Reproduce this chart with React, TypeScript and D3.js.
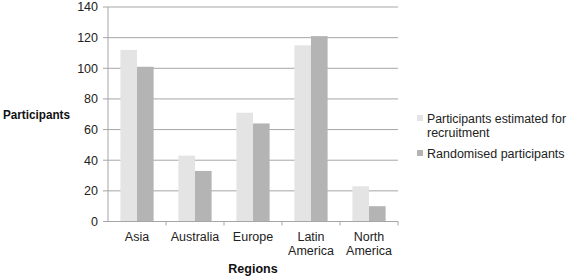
import React from "react";
import * as d3 from "d3";

const categories = ["Asia", "Australia", "Europe", "Latin America", "North America"];
const categoryLines = [["Asia"], ["Australia"], ["Europe"], ["Latin", "America"], ["North", "America"]];
const estimated = [112, 43, 71, 115, 23];
const randomised = [101, 33, 64, 121, 10];
const seriesNames = ["Participants estimated for recruitment", "Randomised participants"];
const yTicks = [0, 20, 40, 60, 80, 100, 120, 140];

const W = 567, H = 276;
const left = 108, right = 398, top = 7, bottom = 221.5;
const colors = ["#e4e4e4", "#b4b4b4"];
const font = "'Liberation Sans', Arial, sans-serif";

export default function App() {
  const x = d3.scaleBand<string>().domain(categories).range([left, right]).paddingInner(0).paddingOuter(0);
  const y = d3.scaleLinear().domain([0, 140]).range([bottom, top]);
  const bw = 16.6;
  const series = [estimated, randomised];
  return (
    <svg width={W} height={H} style={{ position: "absolute", left: 0, top: 0 }} fontFamily={font}>
      <rect width={W} height={H} fill="#fff" />
      {yTicks.map((t) => (
        <g key={t}>
          {t > 0 && <line x1={left} x2={right} y1={y(t)} y2={y(t)} stroke="#a6a6a6" strokeWidth={1} />}
          <line x1={left - 5} x2={left} y1={y(t)} y2={y(t)} stroke="#a6a6a6" />
          <text x={left - 10} y={y(t)} dy="0.35em" textAnchor="end" fontSize={12.5} fill="#222">{t}</text>
        </g>
      ))}
      {series.map((vals, si) =>
        categories.map((c, i) => {
          const cx = (x(c) as number) + x.bandwidth() / 2;
          const bx = cx - bw + si * bw;
          return (
            <rect key={`${si}-${i}`} x={bx} y={y(vals[i])} width={bw} height={bottom - y(vals[i])} fill={colors[si]} />
          );
        })
      )}
      <line x1={left} x2={left} y1={top} y2={bottom} stroke="#a6a6a6" />
      <line x1={left} x2={right} y1={bottom} y2={bottom} stroke="#a6a6a6" />
      {categories.map((c) => (
        <line key={c} x1={(x(c) as number) + x.bandwidth()} x2={(x(c) as number) + x.bandwidth()} y1={bottom} y2={bottom + 4} stroke="#a6a6a6" />
      ))}
      {categories.map((c, i) => (
        <text key={c} x={(x(c) as number) + x.bandwidth() / 2} y={241} textAnchor="middle" fontSize={12.5} fill="#222">
          {categoryLines[i].map((l, j) => (
            <tspan key={j} x={(x(c) as number) + x.bandwidth() / 2} dy={j === 0 ? 0 : 14}>{l}</tspan>
          ))}
        </text>
      ))}
      <text x={253} y={273} textAnchor="middle" fontSize={12.5} fontWeight="bold" fill="#111">Regions</text>
      <text x={3} y={119} fontSize={12} fontWeight="bold" fill="#111" textLength={67} lengthAdjust="spacingAndGlyphs">Participants</text>
      <rect x={417} y={115} width={6} height={6} fill={colors[0]} />
      <text x={427} y={122.5} fontSize={12.5} fill="#222">
        <tspan x={427} textLength={139} lengthAdjust="spacingAndGlyphs">Participants estimated for</tspan>
        <tspan x={427} dy={14.5}>recruitment</tspan>
      </text>
      <rect x={417} y={150} width={6} height={6} fill={colors[1]} />
      <text x={427} y={157.5} fontSize={12.5} fill="#222">{seriesNames[1]}</text>
    </svg>
  );
}
